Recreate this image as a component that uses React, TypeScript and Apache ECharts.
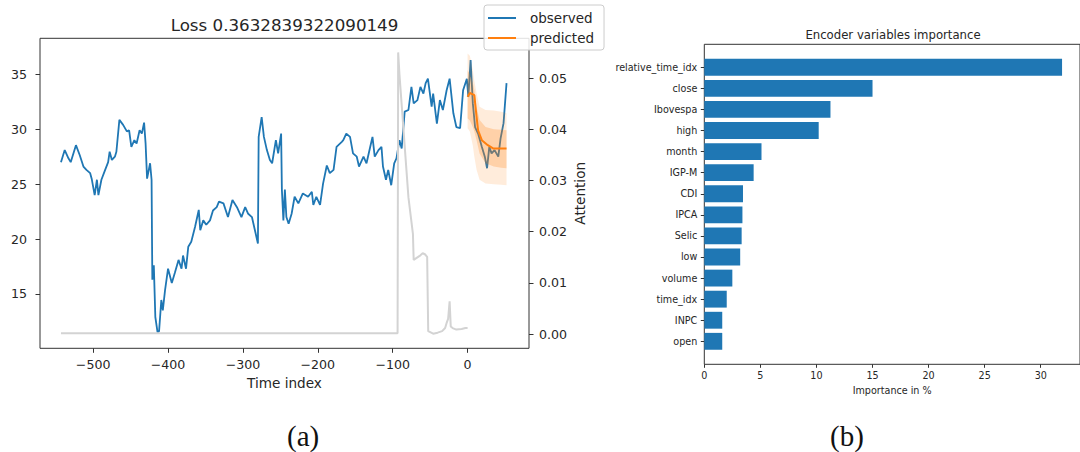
import React, { useEffect, useRef } from "react";
import * as echarts from "echarts";

// ---------- Panel (a): observed / predicted / attention ----------
const observedTime = [
  -543, -538, -533, -530, -523, -518, -513, -509, -504, -502, -498, -495, -493, -489, -484, -480, -478, -475, -471, -469,
  -465, -460, -455, -452, -449, -445, -442, -438, -435, -432, -430, -428, -424, -422, -421, -419, -417, -414, -412, -409,
  -407, -404, -400, -395, -391, -386, -382, -380, -376, -373, -369, -364, -359, -357, -353, -349, -344, -340, -335, -332,
  -326, -320, -314, -308, -302, -297, -293, -288, -284, -280, -279, -275, -272, -268, -264, -261, -256, -253, -249, -248,
  -246, -244, -242, -239, -235, -231, -226, -220, -213, -208, -206, -202, -197, -193, -188, -184, -179, -175, -168, -166,
  -162, -157, -153, -148, -145, -139, -135, -130, -127, -124, -119, -115, -113, -109, -106, -102, -98, -95, -91, -88,
  -84, -79, -75, -72, -67, -63, -59, -56, -53, -48, -46, -41, -37, -33, -28, -24, -19, -15, -10, -6,
  -1, 1, 4, 7, 10, 14, 19, 23, 26, 29, 32, 36, 41, 44, 48, 52,
];
const observedValue = [
  27.0, 28.1, 27.35, 27.0, 28.55, 27.65, 26.6, 26.3, 26.0, 25.5, 24.0, 25.4, 24.0, 25.4, 26.3, 27.0, 27.95, 27.2, 27.5, 27.95,
  30.85, 30.4, 29.8, 29.9, 28.4, 29.0, 28.7, 29.9, 29.6, 30.6, 28.7, 25.5, 26.9, 25.4, 16.3, 17.6, 12.9, 11.5, 11.6, 14.45,
  13.5, 15.35, 17.3, 16.0, 16.9, 18.1, 17.3, 18.5, 17.3, 19.3, 19.75, 21.1, 22.65, 20.8, 21.7, 21.3, 21.7, 22.6, 22.9, 23.4,
  23.25, 22.0, 23.55, 22.9, 22.0, 22.9, 22.3, 22.0, 20.8, 19.6, 29.3, 31.1, 29.3, 28.1, 27.2, 26.9, 29.0, 27.8, 29.6, 24.5,
  21.7, 24.5, 22.0, 21.4, 22.3, 23.85, 23.25, 24.15, 23.85, 24.3, 23.1, 23.85, 23.1, 25.05, 26.7, 26.0, 26.3, 28.4, 28.85, 29.0,
  29.6, 29.3, 27.8, 27.5, 26.6, 27.5, 26.9, 28.4, 29.3, 27.5, 28.1, 28.4, 26.6, 25.4, 26.3, 24.9, 26.9, 27.35, 29.0, 28.25,
  31.6, 31.75, 33.85, 32.35, 32.65, 33.85, 33.25, 34.2, 34.6, 32.05, 33.25, 30.5, 32.65, 31.75, 33.55, 34.6, 31.45, 30.2, 30.1, 33.55,
  34.6, 32.95, 36.3, 32.35, 30.2, 29.6, 28.4, 27.5, 26.45, 28.4, 27.8, 28.1, 27.5, 29.15, 30.55, 34.2,
];

const predictedTime = [0, 3, 9, 11, 14, 19, 27, 34, 52];
const predictedValue = [32.95, 33.3, 33.1, 31.75, 29.9, 29.0, 28.55, 28.25, 28.25];

const bandTime = [0, 3, 7, 9, 12, 16, 24, 35, 45, 52];
const outerHigh = [36.9, 36.7, 35.4, 34.4, 33.3, 32.05, 31.75, 31.7, 31.6, 31.45];
const outerLow = [30.1, 29.8, 28.5, 27.5, 26.3, 25.4, 25.05, 25.0, 24.95, 24.9];
const innerHigh = [35.4, 35.0, 34.2, 33.6, 32.05, 30.85, 30.2, 30.0, 29.95, 29.9];
const innerLow = [31.0, 30.8, 30.2, 29.8, 29.0, 27.8, 26.9, 26.6, 26.5, 26.45];

const attentionTime = [
  -543, -93.5, -92.7, -91, -79, -73, -72, -67, -63, -60, -57, -54, -52.6, -46, -40, -34, -30, -28, -26, -24, -22.5, -20, -15, -8, -3, 0,
];
const attentionValue = [
  0.0002, 0.0002, 0.055, 0.0507, 0.0267, 0.0196, 0.0145, 0.015, 0.0154, 0.0158, 0.0156, 0.0151, 0.0006, 0.0001, 0.0003, 0.0006,
  0.0012, 0.0022, 0.003, 0.0064, 0.0015, 0.0012, 0.0009, 0.001, 0.0012, 0.0012,
];

const timeTicks = [-500, -400, -300, -200, -100, 0];
const valueTicks = [15, 20, 25, 30, 35];
const attentionTicks = [0, 0.01, 0.02, 0.03, 0.04, 0.05];

// ---------- Panel (b): encoder variables importance ----------
const features = [
  "relative_time_idx", "close", "Ibovespa", "high", "month", "IGP-M", "CDI",
  "IPCA", "Selic", "low", "volume", "time_idx", "INPC", "open",
];
const importance = [31.9, 15.0, 11.25, 10.2, 5.1, 4.4, 3.45, 3.4, 3.33, 3.2, 2.5, 2.0, 1.6, 1.6];
const importanceTicks = [0, 5, 10, 15, 20, 25, 30];

const FONT = "DejaVu Sans";
const TXT = "#262626";
const SPINE = "#333";
const minus = (v: number) => String(v).replace("-", "\u2212");

function bandSeries(high: number[], low: number[], color: string, opacity: number) {
  return {
    type: "custom",
    xAxisIndex: 0,
    yAxisIndex: 0,
    clip: true,
    silent: true,
    z: 3,
    data: bandTime.map((t, i) => [t, high[i]]),
    renderItem: (params: any, api: any) => {
      if (params.dataIndex !== 0) return null;
      const pts: number[][] = [];
      bandTime.forEach((t, i) => pts.push(api.coord([t, high[i]])));
      for (let i = bandTime.length - 1; i >= 0; i--) pts.push(api.coord([bandTime[i], low[i]]));
      return { type: "polygon", shape: { points: pts }, style: { fill: color, opacity } };
    },
  };
}

export default function App() {
  const ref = useRef<HTMLDivElement>(null);
  useEffect(() => {
    if (!ref.current) return;
    const chart = echarts.init(ref.current, null, { renderer: "svg" });
    const bandTop = 44.3;
    const bandH = 21.08;
    chart.setOption({
      animation: false,
      backgroundColor: "#fff",
      textStyle: { fontFamily: FONT },
      title: [
        {
          text: "Loss 0.3632839322090149",
          left: 284.5,
          top: 16,
          textAlign: "center",
          padding: 0,
          textStyle: { fontFamily: FONT, fontSize: 16.7, fontWeight: "normal", color: TXT },
        },
        {
          text: "Encoder variables importance",
          left: 893,
          top: 29,
          textAlign: "center",
          padding: 0,
          textStyle: { fontFamily: FONT, fontSize: 11.7, fontWeight: "normal", color: TXT },
        },
      ],
      legend: {
        data: ["observed", "predicted"],
        orient: "vertical",
        left: 484,
        top: 5,
        padding: [6, 10, 5, 4],
        icon: "rect",
        itemWidth: 28,
        itemHeight: 2,
        itemGap: 6,
        backgroundColor: "rgba(255,255,255,0.85)",
        borderColor: "#cccccc",
        borderWidth: 1,
        borderRadius: 3,
        textStyle: { fontFamily: FONT, fontSize: 13.5, color: TXT, padding: [0, 0, 0, 9] },
      },
      grid: [
        { left: 40, top: 38.3, width: 489, height: 310, show: true, borderColor: SPINE, borderWidth: 1, backgroundColor: "transparent" },
        { left: 704.3, top: bandTop, width: 379.7, height: 320, show: true, borderColor: SPINE, borderWidth: 1, backgroundColor: "transparent" },
        { left: 704.3, top: bandTop + (1.09 - 0.5) * bandH, width: 379.7, height: 14 * bandH },
      ],
      xAxis: [
        {
          gridIndex: 0,
          type: "value",
          min: -571,
          max: 82,
          name: "Time index",
          nameLocation: "middle",
          nameGap: 28,
          nameTextStyle: { fontFamily: FONT, fontSize: 13.6, color: TXT },
          axisLine: { show: false, onZero: false },
          splitLine: { show: false },
          axisTick: { show: true, length: 4.5, customValues: timeTicks, lineStyle: { color: SPINE } },
          axisLabel: { customValues: timeTicks, formatter: minus, fontFamily: FONT, fontSize: 12.6, color: TXT, margin: 10 },
        },
        {
          gridIndex: 1,
          type: "value",
          min: 0,
          max: 33.5,
          name: "Importance in %",
          nameLocation: "middle",
          nameGap: 21,
          nameTextStyle: { fontFamily: FONT, fontSize: 9.6, color: TXT },
          axisLine: { show: false, onZero: false },
          splitLine: { show: false },
          axisTick: { show: true, length: 3.5, customValues: importanceTicks, lineStyle: { color: SPINE } },
          axisLabel: { customValues: importanceTicks, fontFamily: FONT, fontSize: 9.6, color: TXT, margin: 6 },
        },
        { gridIndex: 2, type: "value", min: 0, max: 33.5, show: false, axisLine: { onZero: false } },
      ],
      yAxis: [
        {
          gridIndex: 0,
          type: "value",
          min: 10.05,
          max: 38.28,
          position: "left",
          axisLine: { show: false, onZero: false },
          splitLine: { show: false },
          axisTick: { show: true, length: 4.5, customValues: valueTicks, lineStyle: { color: SPINE } },
          axisLabel: { customValues: valueTicks, fontFamily: FONT, fontSize: 12.6, color: TXT, margin: 13 },
        },
        {
          gridIndex: 0,
          type: "value",
          min: -0.00275,
          max: 0.05775,
          position: "right",
          name: "Attention",
          nameLocation: "middle",
          nameRotate: 90,
          nameGap: 44,
          nameTextStyle: { fontFamily: FONT, fontSize: 13.6, color: TXT },
          axisLine: { show: false, onZero: false },
          splitLine: { show: false },
          axisTick: { show: true, length: 4.5, customValues: attentionTicks, lineStyle: { color: SPINE } },
          axisLabel: {
            customValues: attentionTicks,
            formatter: (v: number) => v.toFixed(2),
            fontFamily: FONT,
            fontSize: 12.6,
            color: TXT,
            margin: 10,
          },
        },
        { gridIndex: 1, type: "value", min: 0, max: 1, show: false, axisLine: { onZero: false } },
        {
          gridIndex: 2,
          type: "category",
          data: features,
          inverse: true,
          axisLine: { show: false, onZero: false },
          splitLine: { show: false },
          axisTick: { show: true, alignWithLabel: true, length: 3.5, lineStyle: { color: SPINE } },
          axisLabel: { fontFamily: FONT, fontSize: 9.6, color: TXT, margin: 7 },
        },
      ],
      series: [
        {
          name: "observed",
          type: "line",
          xAxisIndex: 0,
          yAxisIndex: 0,
          symbol: "none",
          z: 2,
          lineStyle: { color: "#1f77b4", width: 1.8 },
          itemStyle: { color: "#1f77b4" },
          data: observedTime.map((t, i) => [t, observedValue[i]]),
        },
        bandSeries(outerHigh, outerLow, "#ff7f0e", 0.15),
        bandSeries(innerHigh, innerLow, "#ff7f0e", 0.25),
        {
          name: "predicted",
          type: "line",
          xAxisIndex: 0,
          yAxisIndex: 0,
          symbol: "none",
          z: 4,
          lineStyle: { color: "#ff7f0e", width: 2 },
          itemStyle: { color: "#ff7f0e" },
          data: predictedTime.map((t, i) => [t, predictedValue[i]]),
        },
        {
          name: "attention",
          type: "line",
          xAxisIndex: 0,
          yAxisIndex: 1,
          symbol: "none",
          z: 5,
          lineStyle: { color: "#d3d3d3", width: 2 },
          itemStyle: { color: "#d3d3d3" },
          data: attentionTime.map((t, i) => [t, attentionValue[i]]),
        },
        {
          name: "importance",
          type: "bar",
          xAxisIndex: 2,
          yAxisIndex: 3,
          barWidth: "80%",
          itemStyle: { color: "#1f77b4" },
          data: importance,
        },
      ],
      graphic: [
        {
          type: "text",
          left: 287,
          top: 421,
          style: { text: "(a)", font: '29px "Liberation Serif"', fill: "#111" },
        },
        {
          type: "text",
          left: 830,
          top: 421,
          style: { text: "(b)", font: '29px "Liberation Serif"', fill: "#111" },
        },
      ],
    });
    return () => chart.dispose();
  }, []);
  return <div ref={ref} style={{ position: "fixed", left: 0, top: 0, width: 1080, height: 452 }} />;
}
